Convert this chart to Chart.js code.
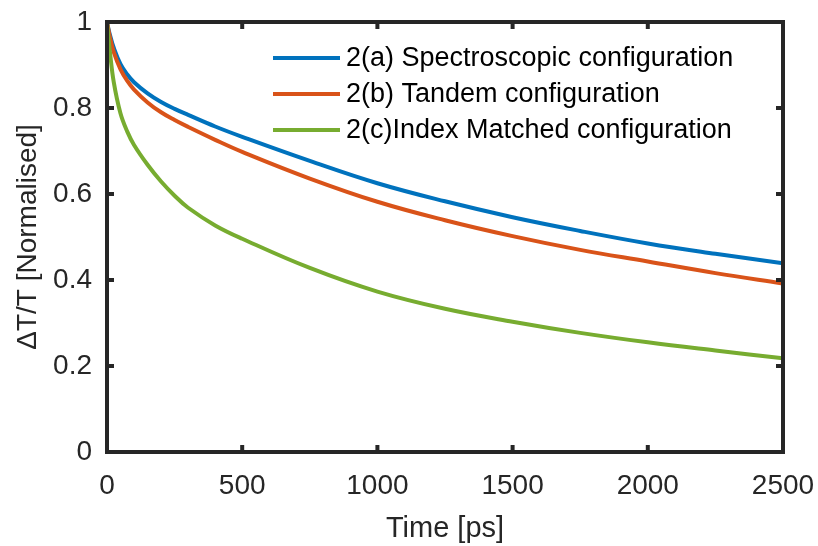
<!DOCTYPE html>
<html>
<head>
<meta charset="utf-8">
<script src="https://cdn.jsdelivr.net/npm/chart.js@4.4.1/dist/chart.umd.min.js"></script>
<style>
  html, body { margin: 0; padding: 0; background: #fff; }
  #wrap { width: 818px; height: 546px; }
</style>
</head>
<body>
<div id="wrap"><canvas id="c" width="818" height="546"></canvas></div>
<script>
// values
var times = [0, 5, 10, 25, 50, 75, 100, 150, 200, 250, 300, 400, 500, 750, 1000, 1250, 1500, 1750, 2000, 2250, 2500];
var spectroscopic = [1, 0.985, 0.972, 0.94, 0.902, 0.878, 0.86, 0.834, 0.814, 0.798, 0.784, 0.757, 0.733, 0.677, 0.625, 0.583, 0.546, 0.514, 0.485, 0.461, 0.439];
var tandem = [1, 0.983, 0.967, 0.93, 0.89, 0.863, 0.843, 0.813, 0.79, 0.772, 0.756, 0.726, 0.698, 0.636, 0.582, 0.539, 0.502, 0.47, 0.443, 0.416, 0.392];
var indexMatched = [1, 0.966, 0.935, 0.86, 0.787, 0.745, 0.714, 0.668, 0.629, 0.596, 0.568, 0.527, 0.496, 0.428, 0.373, 0.333, 0.303, 0.277, 0.255, 0.236, 0.218];
var labels = ["2(a) Spectroscopic configuration", "2(b) Tandem configuration", "2(c)Index Matched configuration"];
var colors = ["#0072BD", "#D95319", "#77AC30"];

var axisColor = "#262626";
var fontFamily = "'Liberation Sans', Arial, sans-serif";

function pts(ys) {
  return times.map(function (t, i) { return { x: t, y: ys[i] }; });
}

// box round the plot with inward ticks on all four sides, plus the legend
var boxPlugin = {
  id: 'box',
  afterDatasetsDraw: function (chart) {
    var ctx = chart.ctx, a = chart.chartArea;
    var xs = chart.scales.x, ys = chart.scales.y;
    var len = 7;
    ctx.save();
    ctx.strokeStyle = axisColor;
    ctx.lineWidth = 4;
    ctx.lineCap = 'square';
    ctx.strokeRect(a.left, a.top, a.right - a.left, a.bottom - a.top);
    ctx.lineCap = 'butt';
    ctx.beginPath();
    xs.ticks.forEach(function (t) {
      var px = xs.getPixelForValue(t.value);
      ctx.moveTo(px, a.bottom); ctx.lineTo(px, a.bottom - len);
      ctx.moveTo(px, a.top); ctx.lineTo(px, a.top + len);
    });
    ys.ticks.forEach(function (t) {
      var py = ys.getPixelForValue(t.value);
      ctx.moveTo(a.left, py); ctx.lineTo(a.left + len, py);
      ctx.moveTo(a.right, py); ctx.lineTo(a.right - len, py);
    });
    ctx.stroke();

    ctx.font = "27px " + fontFamily;
    ctx.textBaseline = 'middle';
    ctx.fillStyle = '#000';
    var rowY = [58, 94, 130];
    chart.data.datasets.forEach(function (ds, i) {
      ctx.strokeStyle = ds.borderColor;
      ctx.lineWidth = 4;
      ctx.beginPath();
      ctx.moveTo(273, rowY[i]);
      ctx.lineTo(340, rowY[i]);
      ctx.stroke();
      ctx.fillText(ds.label, 346, rowY[i] + 1);
    });
    ctx.restore();
  }
};

new Chart(document.getElementById('c'), {
  type: 'line',
  data: {
    datasets: [
      { label: labels[0], data: pts(spectroscopic), borderColor: colors[0], order: 2 },
      { label: labels[1], data: pts(tandem), borderColor: colors[1], order: 1 },
      { label: labels[2], data: pts(indexMatched), borderColor: colors[2], order: 0 }
    ]
  },
  options: {
    responsive: false,
    animation: false,
    layout: { padding: { left: 0, top: 22, right: 35, bottom: 0 } },
    elements: {
      point: { radius: 0 },
      line: { borderWidth: 4, tension: 0.4, fill: false }
    },
    plugins: {
      legend: { display: false },
      tooltip: { enabled: false }
    },
    scales: {
      x: {
        type: 'linear',
        min: 0,
        max: 2500,
        ticks: {
          stepSize: 500, color: axisColor, font: { family: fontFamily, size: 28 }, padding: 0, maxRotation: 0,
          callback: function (v) { return String(v); }
        },
        grid: { display: false, drawTicks: true, tickLength: 17 },
        border: { display: false },
        title: { display: true, text: 'Time [ps]', color: axisColor, font: { family: fontFamily, size: 29 }, padding: { top: 0, bottom: 0 } },
        afterFit: function (s) { s.height = 94; }
      },
      y: {
        min: 0,
        max: 1,
        ticks: {
          stepSize: 0.2, color: axisColor, font: { family: fontFamily, size: 28 }, padding: 0,
          callback: function (v) { return String(+v.toFixed(1)); }
        },
        grid: { display: false, drawTicks: true, tickLength: 15 },
        border: { display: false },
        title: { display: true, text: 'ΔT/T [Normalised]', color: axisColor, font: { family: fontFamily, size: 28 }, padding: { top: 11, bottom: 0 } },
        afterFit: function (s) { s.width = 107; }
      }
    }
  },
  plugins: [boxPlugin]
});
</script>
</body>
</html>
